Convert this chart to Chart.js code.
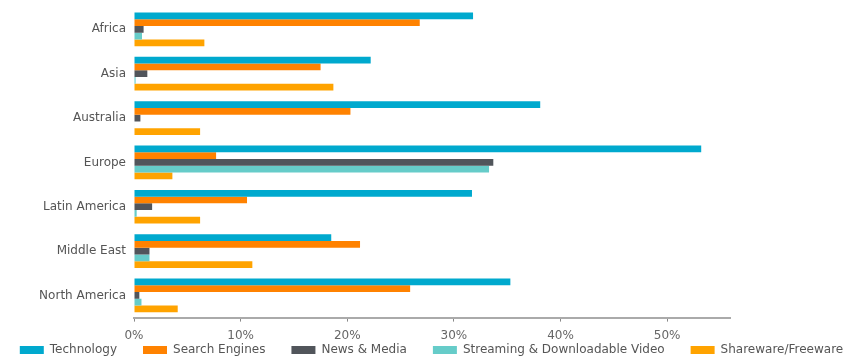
<!DOCTYPE html>
<html>
<head>
<meta charset="utf-8">
<script src="https://cdn.jsdelivr.net/npm/chart.js@4.4.1/dist/chart.umd.min.js"></script>
<style>
  html, body { margin: 0; padding: 0; background: #fff; }
  #wrap { width: 863px; height: 358px; position: relative; }
</style>
</head>
<body>
<div id="wrap"><canvas id="RegionChart"></canvas></div>
<script>
const regions = ['Africa', 'Asia', 'Australia', 'Europe', 'Latin America', 'Middle East', 'North America'];
const technology = [31.8, 22.2, 38.1, 53.2, 31.7, 18.5, 35.3];
const searchEngines = [26.8, 17.5, 20.3, 7.7, 10.6, 21.2, 25.9];
const newsMedia = [0.9, 1.25, 0.6, 33.7, 1.7, 1.45, 0.5];
const streamingVideo = [0.75, 0.15, 0.05, 33.3, 0.25, 1.45, 0.7];
const shareware = [6.6, 18.7, 6.2, 3.6, 6.2, 11.1, 4.1];
const xTicks = [0, 10, 20, 30, 40, 50];

Chart.defaults.font.family = "'DejaVu Sans', Verdana, sans-serif";
Chart.defaults.font.size = 12;
Chart.defaults.color = '#666';

// legend keeps wide horizontal spacing but only takes a thin strip at the bottom;
// move its top up (bottom stays) so the items are not clipped
const legendShift = {
    id: 'legendShift',
    afterLayout(chart) {
        chart.legend.top -= 32;
    }
};

const ctxRegion = document.getElementById('RegionChart');
const dataRegion = {
    labels: regions,
    datasets: [
        { label: 'Technology', data: technology, backgroundColor: '#00a9ce' },
        { label: 'Search Engines', data: searchEngines, backgroundColor: '#ff8200' },
        { label: 'News & Media', data: newsMedia, backgroundColor: '#51555b' },
        { label: 'Streaming & Downloadable Video', data: streamingVideo, backgroundColor: '#66ccc9' },
        { label: 'Shareware/Freeware', data: shareware, backgroundColor: '#ffa300' }
    ]
};
const configRegion = {
    type: 'bar',
    data: dataRegion,
    plugins: [legendShift],
    options: {
        indexAxis: 'y',
        responsive: true,
        maintainAspectRatio: false,
        animation: false,
        categoryPercentage: 0.76,
        barPercentage: 1.0,
        layout: { padding: { left: -15, right: -15, top: 4, bottom: 0 } },
        scales: {
            x: {
                min: 0,
                max: 55.9,
                afterBuildTicks: (axis) => { axis.ticks = xTicks.map(v => ({ value: v })); },
                ticks: { callback: (v) => v + '%', padding: 7, color: '#666' },
                grid: { drawOnChartArea: false, drawTicks: true, tickLength: 4, color: '#888' },
                border: { display: true, color: '#aaa', width: 2 }
            },
            y: {
                afterFit: (axis) => { axis.width = 149; },
                // a little room below the last group, like the original
                afterDataLimits: (axis) => { axis.max += 0.14; },
                ticks: { color: '#555', padding: 0 },
                grid: { display: false },
                border: { display: false }
            },
            // empty spacer on the right so the plot stops where the original does
            yRight: {
                type: 'category',
                position: 'right',
                labels: regions,
                afterFit: (axis) => { axis.width = 148; },
                ticks: { display: false },
                grid: { display: false },
                border: { display: false }
            }
        },
        plugins: {
            legend: {
                position: 'bottom',
                maxHeight: 8,
                labels: { boxWidth: 24, boxHeight: 8, padding: 26, color: '#555' }
            },
            tooltip: { enabled: false }
        }
    }
};
new Chart(ctxRegion, configRegion);
</script>
</body>
</html>
